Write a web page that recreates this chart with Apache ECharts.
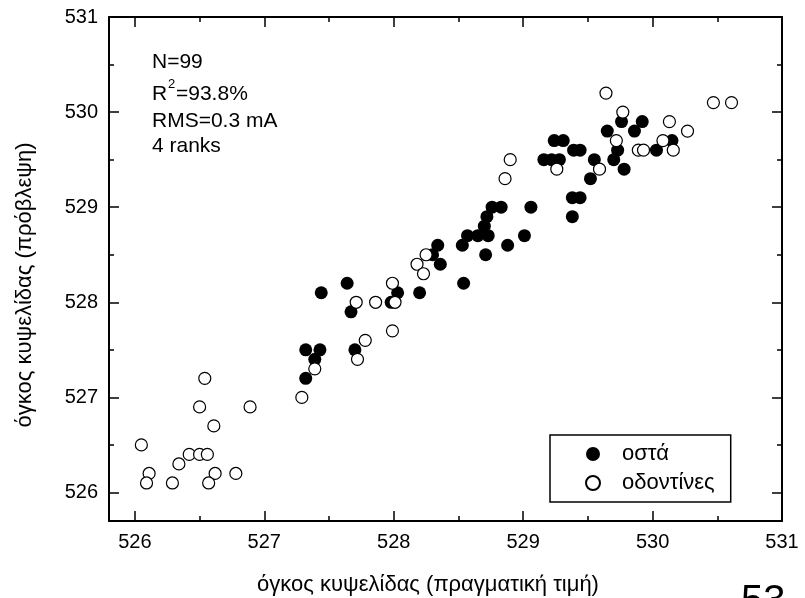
<!DOCTYPE html>
<html>
<head>
<meta charset="utf-8">
<script src="https://cdn.jsdelivr.net/npm/echarts@6/dist/echarts.min.js"></script>
<style>
  html, body { margin: 0; padding: 0; background: #fff; }
  #chart { width: 805px; height: 598px; }
</style>
</head>
<body>
<div id="chart"></div>
<script>
// Actual vs predicted alveolar volume, bones (filled) and dentine (open)
const bonesActual = [
  527.32, 527.39, 527.32, 527.43, 527.44, 527.64, 527.67, 527.70, 528.03, 527.98,
  528.20, 528.30, 528.36, 528.34, 528.53, 528.57, 528.65, 528.73, 528.71, 528.54,
  528.70, 528.72, 528.76, 528.83, 529.06, 529.01, 528.88, 529.38, 529.44, 529.38,
  529.16, 529.22, 529.28, 529.24, 529.31, 529.39, 529.44, 529.55, 529.52, 529.65,
  529.76, 529.92, 529.86, 529.73, 529.70, 529.78, 530.03, 530.15
];
const bonesPredicted = [
  527.2, 527.4, 527.5, 527.5, 528.1, 528.2, 527.9, 527.5, 528.1, 528.0,
  528.1, 528.5, 528.4, 528.6, 528.6, 528.7, 528.7, 528.7, 528.5, 528.2,
  528.8, 528.9, 529.0, 529.0, 529.0, 528.7, 528.6, 529.1, 529.1, 528.9,
  529.5, 529.5, 529.5, 529.7, 529.7, 529.6, 529.6, 529.5, 529.3, 529.8,
  529.9, 529.9, 529.8, 529.6, 529.5, 529.4, 529.6, 529.7
];
const teethActual = [
  526.05, 526.11, 526.09, 526.29, 526.34, 526.42, 526.50, 526.56, 526.50, 526.54,
  526.61, 526.62, 526.57, 526.78, 526.89, 527.29, 527.39, 527.71, 527.86, 527.72,
  527.78, 527.99, 528.01, 527.99, 528.18, 528.25, 528.23, 528.86, 528.90, 529.26,
  529.59, 529.64, 529.77, 529.72, 529.89, 529.93, 530.08, 530.16, 530.13, 530.27,
  530.47, 530.61
];
const teethPredicted = [
  526.5, 526.2, 526.1, 526.1, 526.3, 526.4, 526.4, 526.4, 526.9, 527.2,
  526.7, 526.2, 526.1, 526.2, 526.9, 527.0, 527.3, 528.0, 528.0, 527.4,
  527.6, 528.2, 528.0, 527.7, 528.4, 528.5, 528.3, 529.3, 529.5, 529.4,
  529.4, 530.2, 530.0, 529.7, 529.6, 529.6, 529.7, 529.6, 529.9, 529.8,
  530.1, 530.1
];

const seriesNames = ['οστά', 'οδοντίνες'];
const xMajorTicks = [526, 527, 528, 529, 530, 531];
const xMinorTicks = [526.5, 527.5, 528.5, 529.5, 530.5];
const yMajorTicks = [526, 527, 528, 529, 530, 531];
const yMinorTicks = [526.5, 527.5, 528.5, 529.5, 530.5];
const statsLines = ['N=99', 'RMS=0.3 mA', '4 ranks'];
const xTitle = 'όγκος κυψελίδας (πραγματική τιμή)';
const yTitle = 'όγκος κυψελίδας (πρόβλεψη)';

const FONT = '"Liberation Sans", Arial, sans-serif';
const X_MIN = 525.8, X_MAX = 531;
const Y_MIN = 525.7, Y_MAX = 531;

function zip(a, b) { return a.map((v, i) => [v, b[i]]); }

// One axis per side for major ticks (with frame line), one for minor ticks
function axis(position, min, max, ticks, isMajor, showLabels) {
  return {
    type: 'value',
    position: position,
    min: min,
    max: max,
    axisLine: { show: isMajor, onZero: false, lineStyle: { color: '#000', width: 2 } },
    axisTick: {
      show: true,
      inside: true,
      length: isMajor ? 10 : 5,
      customValues: ticks,
      lineStyle: { color: '#000', width: 1.5 }
    },
    axisLabel: {
      show: showLabels,
      customValues: ticks,
      color: '#000',
      fontFamily: FONT,
      fontSize: 20,
      margin: 11
    },
    splitLine: { show: false }
  };
}

const chart = echarts.init(document.getElementById('chart'), null, { renderer: 'canvas' });

chart.setOption({
  backgroundColor: '#fff',
  animation: false,
  grid: { left: 109, top: 17, right: 23, bottom: 77, containLabel: false },
  xAxis: [
    axis('bottom', X_MIN, X_MAX, xMajorTicks, true, true),
    axis('bottom', X_MIN, X_MAX, xMinorTicks, false, false),
    axis('top', X_MIN, X_MAX, xMajorTicks, true, false),
    axis('top', X_MIN, X_MAX, xMinorTicks, false, false)
  ],
  yAxis: [
    axis('left', Y_MIN, Y_MAX, yMajorTicks, true, true),
    axis('left', Y_MIN, Y_MAX, yMinorTicks, false, false),
    axis('right', Y_MIN, Y_MAX, yMajorTicks, true, false),
    axis('right', Y_MIN, Y_MAX, yMinorTicks, false, false)
  ],
  legend: {
    data: seriesNames,
    orient: 'vertical',
    left: 550,
    top: 435,
    padding: [8, 16, 8, 35],
    itemWidth: 14,
    itemHeight: 14,
    itemGap: 7,
    borderColor: '#000',
    borderWidth: 1.5,
    backgroundColor: '#fff',
    textStyle: { color: '#000', fontFamily: FONT, fontSize: 22, lineHeight: 22, padding: [0, 0, 0, 17] }
  },
  series: [
    {
      name: seriesNames[0],
      type: 'scatter',
      xAxisIndex: 0,
      yAxisIndex: 0,
      symbol: 'circle',
      symbolSize: 13,
      itemStyle: { color: '#000', opacity: 1 },
      data: zip(bonesActual, bonesPredicted)
    },
    {
      name: seriesNames[1],
      type: 'scatter',
      xAxisIndex: 0,
      yAxisIndex: 0,
      symbol: 'circle',
      symbolSize: 12,
      itemStyle: { color: '#fff', borderColor: '#000', borderWidth: 1.2, opacity: 1 },
      data: zip(teethActual, teethPredicted)
    }
  ],
  graphic: [
    { type: 'text', left: 152, top: 52, style: { text: statsLines[0], fill: '#000', font: '21px ' + FONT } },
    { type: 'text', left: 152, top: 84, style: { text: 'R', fill: '#000', font: '21px ' + FONT } },
    { type: 'text', left: 168, top: 78, style: { text: '2', fill: '#000', font: '13px ' + FONT } },
    { type: 'text', left: 176, top: 84, style: { text: '=93.8%', fill: '#000', font: '21px ' + FONT } },
    { type: 'text', left: 152, top: 111, style: { text: statsLines[1], fill: '#000', font: '21px ' + FONT } },
    { type: 'text', left: 152, top: 136, style: { text: statsLines[2], fill: '#000', font: '21px ' + FONT } },
    {
      type: 'text', x: 428, y: 585,
      style: { text: xTitle, fill: '#000', font: '22px ' + FONT, align: 'center', verticalAlign: 'middle' }
    },
    {
      type: 'text', x: 25, y: 285, rotation: Math.PI / 2,
      style: { text: yTitle, fill: '#000', font: '22px ' + FONT, align: 'center', verticalAlign: 'middle' }
    },
    { type: 'text', left: 741, top: 582, style: { text: '53', fill: '#000', font: '40px ' + FONT } }
  ]
});
</script>
</body>
</html>
